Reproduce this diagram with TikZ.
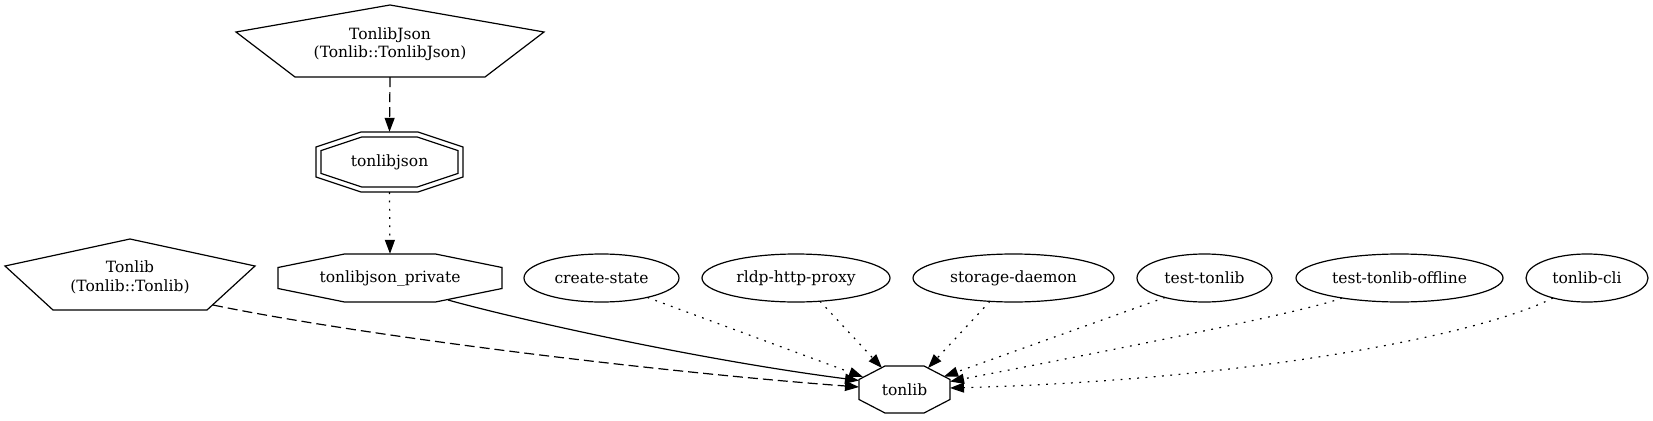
\documentclass[tikz,border=0pt]{standalone}
\usepackage{fontspec}
\setmainfont{DejaVu Serif}
\usetikzlibrary{shapes.geometric,arrows.meta,calc}
\newcommand\dgfont{\fontsize{15.5}{18.5}\selectfont}
\tikzset{
  lbl/.style={font=\dgfont, align=center, inner sep=0pt},
  ell/.style={draw, ellipse, line width=1.2pt, inner sep=0pt, font=\dgfont, minimum height=48pt},
  shp/.style={draw, line width=1.2pt, line join=miter},
  arr/.style={-{Triangle[length=14pt,width=10pt]}, line width=1.2pt},
  solidedge/.style={arr},
  dashedge/.style={arr, dash pattern=on 10pt off 5pt},
  dotedge/.style={arr, dash pattern=on 1.8pt off 6.5pt},
}
\begin{document}
\begin{tikzpicture}[x=1pt,y=-1pt]
\useasboundingbox (0,0) rectangle (1653,420);
% nodes
\node[lbl, minimum width=308pt, minimum height=66pt] (TJ) at (390,44) {TonlibJson\\(Tonlib::TonlibJson)};
\node[lbl, minimum width=147pt, minimum height=60pt] (tj) at (389.5,162) {tonlibjson};
\node[lbl, minimum width=224pt, minimum height=48pt] (tjp) at (390,278) {tonlibjson\_private};
\node[lbl, minimum width=250pt, minimum height=71pt] (TL) at (130,277.5) {Tonlib\\(Tonlib::Tonlib)};
\node[ell, minimum width=155pt] (cs) at (601.5,278) {create-state};
\node[ell, minimum width=188pt] (rl) at (796,278) {rldp-http-proxy};
\node[ell, minimum width=201pt] (sd) at (1013.5,278) {storage-daemon};
\node[ell, minimum width=135pt] (tt) at (1204.5,278) {test-tonlib};
\node[ell, minimum width=207pt] (to) at (1399.5,278) {test-tonlib-offline};
\node[ell, minimum width=122pt] (cli) at (1587,278) {tonlib-cli};
\node[lbl, minimum width=91pt, minimum height=47pt] (tl) at (904.5,389.5) {tonlib};
% shapes
\draw[shp, shift={(TJ.center)}] (0,-39) -- (154,-12) -- (95,33) -- (-95,33) -- (-154,-12) -- cycle;
\draw[shp, shift={(TL.center)}] (0,-38.5) -- (125,-11.5) -- (77,32.5) -- (-77,32.5) -- (-125,-11.5) -- cycle;
\draw[shp, shift={(tj.center)}] (-28.5,-30) -- (28.5,-30) -- (73.5,-15) -- (73.5,15) -- (28.5,30) -- (-28.5,30) -- (-73.5,15) -- (-73.5,-15) -- cycle;
\draw[shp, shift={(tj.center)}] (-27.7,-25) -- (27.7,-25) -- (68.5,-11.4) -- (68.5,11.4) -- (27.7,25) -- (-27.7,25) -- (-68.5,11.4) -- (-68.5,-11.4) -- cycle;
\draw[shp, shift={(tjp.center)}] (-45.5,-24) -- (45.5,-24) -- (112,-10.5) -- (112,10.5) -- (45.5,24) -- (-45.5,24) -- (-112,10.5) -- (-112,-10.5) -- cycle;
\draw[shp, shift={(tl.center)}] (-19.5,-23.5) -- (19.5,-23.5) -- (45.5,-10) -- (45.5,10) -- (19.5,23.5) -- (-19.5,23.5) -- (-45.5,10) -- (-45.5,-10) -- cycle;
% connectors
\draw[dashedge] (TJ.south) -- (tj.north);
\draw[dotedge] (tj.south) -- (tjp.north);
\draw[dashedge] ($(TL)+(83,27.5)$) .. controls (363,336) and (658,372) .. ($(tl)+(-45.5,-2.5)$);
\draw[solidedge] ($(tjp)+(58,22)$) .. controls (520,320) and (700,360) .. ($(tl)+(-45.5,-9)$);
\draw[dotedge] ($(cs)+(46,19.5)$) -- ($(tl)+(-41.5,-12.5)$);
\draw[dotedge] ($(rl)+(24,23.2)$) -- ($(tl)+(-22.5,-21.5)$);
\draw[dotedge] ($(sd)+(-23.5,23.3)$) -- ($(tl)+(23.5,-21.5)$);
\draw[dotedge] ($(tt)+(-39.5,19.5)$) -- ($(tl)+(39.5,-13)$);
\draw[dotedge] ($(to)+(-57.5,20)$) .. controls (1300,314) and (1050,362) .. ($(tl)+(45.5,-8)$);
\draw[dotedge] ($(cli)+(-34,20)$) .. controls (1480,335) and (1250,380) .. ($(tl)+(45.5,-1.5)$);
\end{tikzpicture}
\end{document}
